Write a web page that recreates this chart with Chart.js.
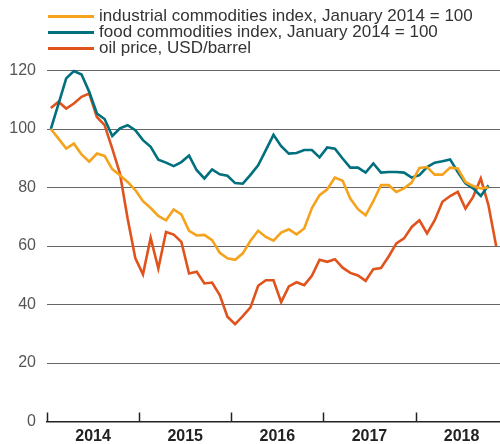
<!DOCTYPE html>
<html>
<head>
<meta charset="utf-8">
<script src="https://cdn.jsdelivr.net/npm/chart.js@4/dist/chart.umd.min.js"></script>
<style>
  body { margin: 0; background: #fff; }
  #wrap { position: relative; width: 500px; height: 444px; }
  #legend {
    position: absolute; left: 48px; top: 8px;
    font: 17px "Liberation Sans", Helvetica, Arial, sans-serif; color: #333;
  }
  #legend .row { display: flex; align-items: center; height: 16px; line-height: 16px; white-space: nowrap; }
  #legend .line { width: 46px; height: 3px; margin-right: 5px; }
</style>
</head>
<body>
<div id="wrap">
  <canvas id="chart"></canvas>
  <div id="legend"></div>
</div>
<script>
// monthly values, Jan 2014 onwards
const years = ['2014', '2015', '2016', '2017', '2018'];

const industrial = [
  100, 96.7, 93.3, 95, 91.3, 88.8, 91.6, 90.8, 86.3, 84.2, 81.9, 79.1,
  75.3, 73, 70.3, 68.8, 72.5, 70.8, 65.2, 63.6, 63.8, 62, 57.7, 55.8,
  55.3, 57.5, 61.8, 65.2, 63.1, 61.8, 64.6, 65.7, 64, 66, 73, 77.4,
  79.4, 83.4, 82.3, 76.2, 72.6, 70.5, 75.3, 80.8, 80.8, 78.5, 79.7, 81.7,
  86.7, 87, 84.4, 84.4, 86.8, 86.5, 81.9, 80.5, 79.7, 80
];
const food = [
  100, 108.6, 117.3, 119.8, 118.6, 112.7, 105.3, 103.4, 97.6, 100.2, 101.3, 99.6,
  96.2, 93.9, 89.5, 88.5, 87.3, 88.7, 90.9, 85.9, 83.1, 86.2, 84.5, 84,
  81.5, 81.3, 84.3, 87.6, 92.8, 98, 94.1, 91.6, 91.8, 92.8, 92.8, 90.3,
  93.7, 93.3, 89.9, 86.8, 86.8, 85.1, 88.2, 85.1, 85.3, 85.3, 85.1, 83.4,
  84.2, 87, 88.5, 89, 89.6, 85.3, 81.4, 79.7, 77.1, 80.8
];
const oil = [
  107.2, 109.3, 107, 108.7, 111, 112.1, 104.1, 101.3, 93.3, 84.8, 69.4, 55.9,
  50.3, 62.8, 52.3, 64.8, 63.9, 61.4, 50.6, 51.2, 47.2, 47.5, 43.2, 35.8,
  33.3, 36, 39, 46.4, 48.3, 48.3, 40.8, 46.2, 47.6, 46.6, 49.8, 55.3,
  54.6, 55.5, 52.6, 50.8, 49.9, 48.1, 52.1, 52.5, 56.4, 60.9, 62.6, 66.5,
  68.8, 64.3, 68.8, 75.1, 77.1, 78.5, 72.8, 76.8, 83.1, 73.9, 60
];

const series = [
  { label: 'industrial commodities index, January 2014 = 100', data: industrial, color: '#f5a21c' },
  { label: 'food commodities index, January 2014 = 100', data: food, color: '#006f7e' },
  { label: 'oil price, USD/barrel', data: oil, color: '#e0531c' },
];

// month i sits in the middle of its slot
const toPoints = arr => arr.map((v, i) => ({ x: i + 0.5, y: v }));

const legend = document.getElementById('legend');
series.forEach(s => {
  const row = document.createElement('div');
  row.className = 'row';
  row.innerHTML = '<span class="line" style="background:' + s.color + '"></span><span>' + s.label + '</span>';
  legend.appendChild(row);
});

const font = '"Liberation Sans", Helvetica, Arial, sans-serif';

// small year-boundary ticks pointing up from the axis
const yearTicks = {
  id: 'yearTicks',
  afterDraw(chart) {
    const x = chart.scales.x;
    const ctx = chart.ctx;
    ctx.save();
    ctx.strokeStyle = '#222';
    ctx.lineWidth = 1.5;
    years.forEach((y, i) => {
      const px = Math.round(x.getPixelForValue(i * 12)) + 0.5;
      ctx.beginPath();
      ctx.moveTo(px, x.top);
      ctx.lineTo(px, x.top - 9);
      ctx.stroke();
    });
    ctx.restore();
  }
};

new Chart(document.getElementById('chart'), {
  type: 'line',
  data: {
    datasets: series.map(s => ({
      label: s.label,
      data: toPoints(s.data),
      borderColor: s.color,
      backgroundColor: s.color,
      borderWidth: 2.6,
      pointRadius: 0,
      tension: 0,
      clip: false
    }))
  },
  options: {
    responsive: true,
    maintainAspectRatio: false,
    animation: false,
    layout: { padding: { top: 70.5, left: 0, right: 0, bottom: 0 } },
    plugins: {
      legend: { display: false },
      tooltip: { enabled: false }
    },
    scales: {
      x: {
        type: 'linear',
        min: 0,
        max: 59,
        afterBuildTicks: axis => {
          axis.ticks = years.map((y, i) => ({ value: i * 12 + 6 }));
        },
        afterFit: axis => { axis.height = 22.5; },
        grid: { display: false, drawTicks: false },
        border: { display: true, color: '#222', width: 1.5 },
        ticks: {
          padding: 5,
          color: '#222',
          font: { family: font, size: 16, weight: 'bold' },
          callback: (v, i) => years[i]
        }
      },
      y: {
        min: 0,
        max: 120,
        afterFit: axis => { axis.width = 47; },
        ticks: {
          stepSize: 20,
          padding: 11,
          color: '#555',
          font: { family: font, size: 16 }
        },
        grid: {
          drawTicks: false,
          color: ctx => ctx.tick.value === 0 ? 'rgba(0,0,0,0)' : '#666',
          lineWidth: 1
        },
        border: { display: false }
      }
    }
  },
  plugins: [yearTicks]
});
</script>
</body>
</html>
